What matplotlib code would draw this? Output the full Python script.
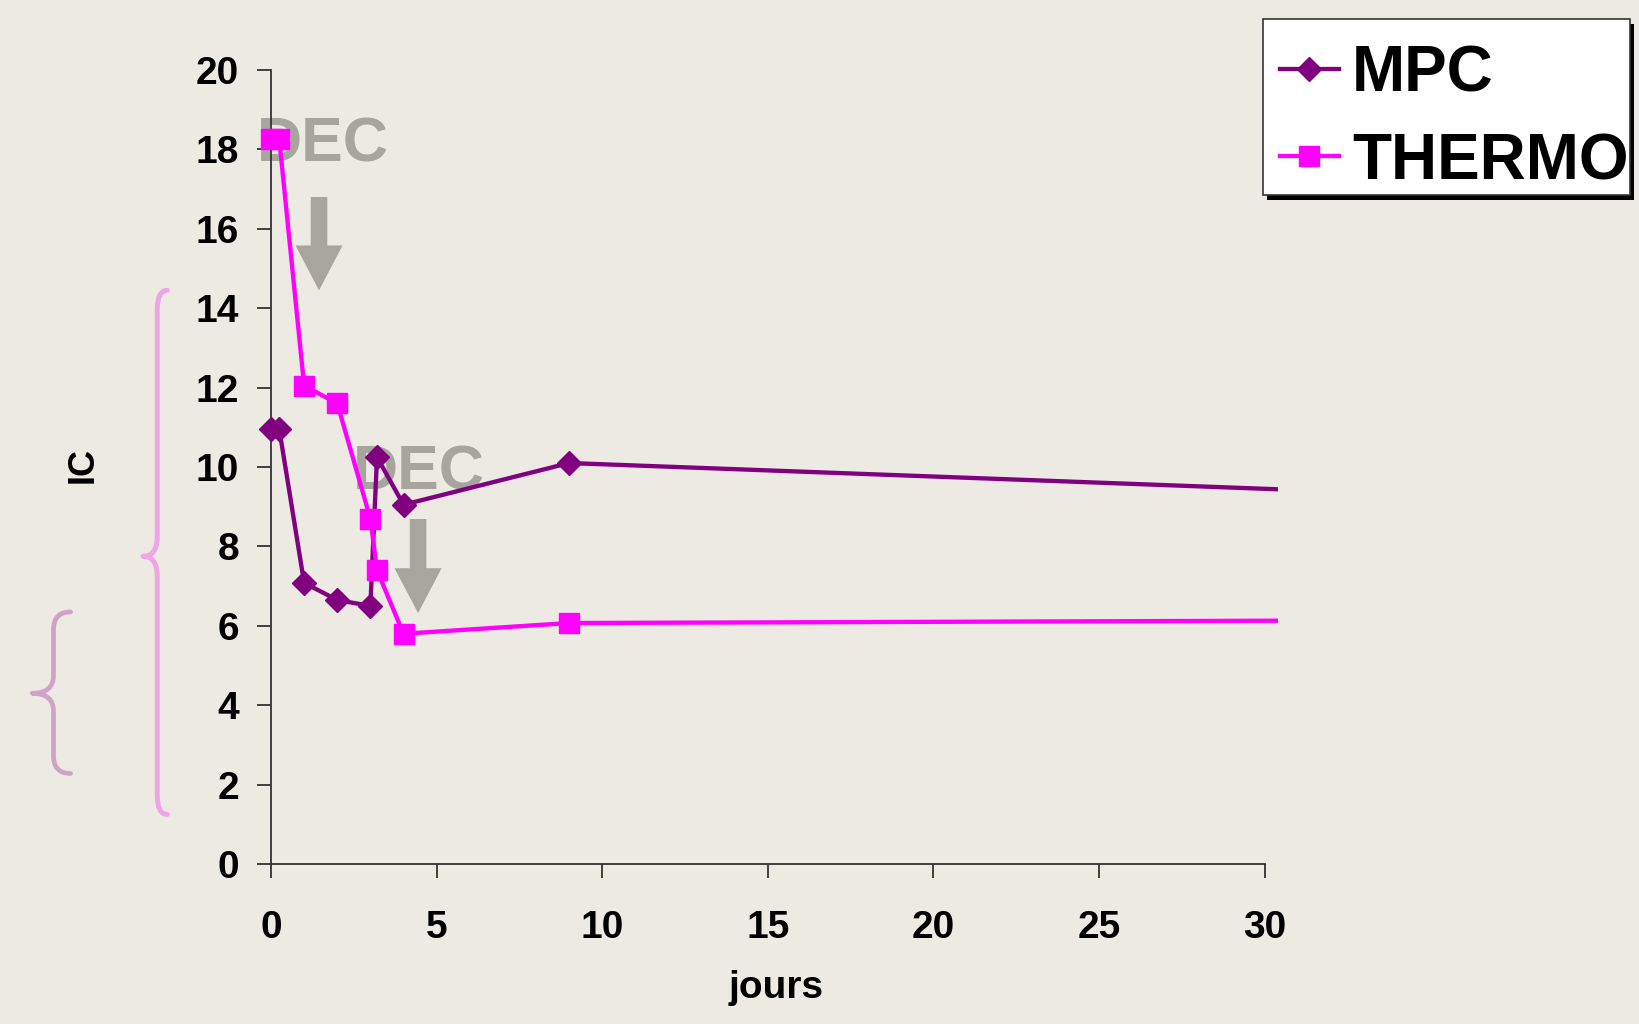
import matplotlib
matplotlib.use("Agg")
import matplotlib.pyplot as plt
from matplotlib.lines import Line2D
from matplotlib.patches import PathPatch, Rectangle
from matplotlib.path import Path
from matplotlib.transforms import blended_transform_factory

# Indice cardiaque (IC) en fonction du temps (jours)
days = [0, 0.25, 1, 2, 3, 3.2, 4, 9, 31]
mpc = [10.95, 10.95, 7.08, 6.65, 6.5, 10.25, 9.05, 10.1, 9.42]
thermo = [18.25, 18.25, 12.05, 11.6, 8.7, 7.4, 5.8, 6.07, 6.13]

x_ticks = [0, 5, 10, 15, 20, 25, 30]
y_ticks = list(range(0, 21, 2))

# DEC annotations: (x, y) of the label, arrow start / tip
dec_labels = [(1.57, 18.1), (4.47, 9.85)]
dec_arrows = [(1.45, 16.8, 14.45), (4.44, 8.69, 6.32)]

# braces along the y axis: (top, middle, bottom) in IC units
brace_big = (14.45, 7.75, 1.25)
brace_small = (6.35, 4.3, 2.28)

MPC_COLOR = "#800080"
THERMO_COLOR = "#FF00FF"
DEC_COLOR = "#A8A59E"
BG = "#ECEAE3"
W, H = 1640, 1024

plt.rcParams["font.family"] = ["Liberation Sans", "DejaVu Sans"]
plt.rcParams["font.weight"] = "bold"

fig = plt.figure(figsize=(W / 100, H / 100), dpi=100, facecolor=BG)
ax = fig.add_axes([271 / W, 1 - 864 / H, 1007 / W, 794 / H])
ax.set_facecolor("none")

ax.set_xlim(0, 30.4)
ax.set_ylim(0, 20)

series = [("MPC", mpc, MPC_COLOR, "D", 12.5),
          ("THERMO", thermo, THERMO_COLOR, "s", 15)]
for name, vals, col, mk, ms in series:
    ax.plot(days, vals, color=col, lw=3.1, zorder=3)
    ax.plot(days[:-1], vals[:-1], ls="none", marker=mk, ms=ms, color=col,
            mec=col, clip_on=False, zorder=4)

for (x, y) in dec_labels:
    ax.text(x, y, "DEC", color=DEC_COLOR, fontsize=45, fontweight="bold",
            ha="center", va="center", zorder=1)
for (x, y0, y1) in dec_arrows:
    ax.arrow(x, y0, 0, y1 - y0, width=0.5, head_width=1.42, head_length=1.13,
             length_includes_head=True, color=DEC_COLOR, lw=0, zorder=1)

# axes styling
for s in ("top", "right"):
    ax.spines[s].set_visible(False)
for s in ("left", "bottom"):
    ax.spines[s].set_color("#333333")
    ax.spines[s].set_linewidth(1.3)
ax.spines["bottom"].set_bounds(0, 30)
ax.set_xticks(x_ticks)
ax.set_yticks(y_ticks)
ax.tick_params(axis="both", direction="out", length=10, width=1.3,
               color="#333333", labelsize=28)
ax.tick_params(axis="y", pad=13)
ax.tick_params(axis="x", pad=23)
for lab in ax.get_xticklabels() + ax.get_yticklabels():
    lab.set_fontweight("bold")

fig.text(776 / W, 1 - 988 / H, "jours", fontsize=28, fontweight="bold",
         ha="center", va="center")
fig.text(83 / W, 1 - 465 / H, "IC", fontsize=26, fontweight="bold",
         ha="center", va="center", rotation=90)


def brace(x_tip, x_spine, x_end, top, mid, bot, r, color, lw):
    verts = [(x_end, top), (x_spine, top), (x_spine, top - r),
             (x_spine, mid + r), (x_spine, mid), (x_tip, mid),
             (x_spine, mid), (x_spine, mid - r),
             (x_spine, bot + r), (x_spine, bot), (x_end, bot)]
    codes = [Path.MOVETO, Path.CURVE3, Path.CURVE3,
             Path.LINETO, Path.CURVE3, Path.CURVE3,
             Path.CURVE3, Path.CURVE3,
             Path.LINETO, Path.CURVE3, Path.CURVE3]
    tr = blended_transform_factory(ax.transAxes, ax.transData)
    ax.add_patch(PathPatch(Path(verts, codes), fill=False, edgecolor=color,
                           lw=lw, transform=tr, clip_on=False,
                           capstyle="round", joinstyle="round"))


brace(-0.127, -0.113, -0.103, *brace_big, 0.5, "#F0A4E4", 3.6)
brace(-0.237, -0.216, -0.199, *brace_small, 0.45, "#CFA3C8", 3.4)


# legend box drawn by hand (pixel positions, y measured from the top)
def fx(px):
    return px / W


def fy(py):
    return 1 - py / H


box = (1263, 19, 1630, 195)  # left, top, right, bottom
fig.patches.append(Rectangle((fx(box[0] + 4), fy(box[3] + 5)),
                             fx(box[2] - box[0]), (box[3] - box[1]) / H,
                             transform=fig.transFigure, facecolor="black",
                             edgecolor="none", zorder=5))
fig.patches.append(Rectangle((fx(box[0]), fy(box[3])),
                             fx(box[2] - box[0]), (box[3] - box[1]) / H,
                             transform=fig.transFigure, facecolor="white",
                             edgecolor="#333333", lw=1.2, zorder=6))
for (name, vals, col, mk, ms), row_y in zip(series, [69, 156]):
    fig.lines.append(Line2D([fx(1280), fx(1339)], [fy(row_y)] * 2,
                            transform=fig.transFigure, color=col, lw=3.1,
                            zorder=7))
    fig.lines.append(Line2D([fx(1309.5)], [fy(row_y)],
                            transform=fig.transFigure, color=col,
                            marker=mk, ms=ms * 0.95, ls="none", zorder=7))
    fig.text(fx(1352), fy(row_y + 23), name, fontsize=46, fontweight="bold",
             ha="left", va="baseline", zorder=8)

fig.savefig("out.png", dpi=100, facecolor=BG)
